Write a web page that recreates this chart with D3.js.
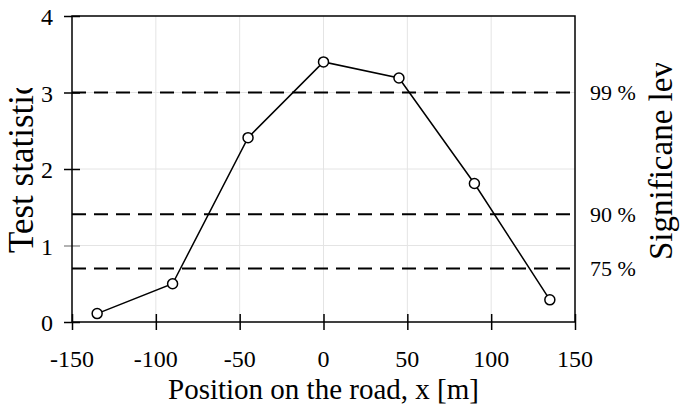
<!DOCTYPE html>
<html>
<head>
<meta charset="utf-8">
<script src="https://d3js.org/d3.v7.min.js"></script>
<style>
  body { margin: 0; background: #fff; }
  text { font-family: "Liberation Serif", "Times New Roman", serif; fill: #000; }
</style>
</head>
<body>
<svg id="chart" width="680" height="414"></svg>
<script>
// data
var positions = [-135, -90, -45, 0, 45, 90, 135];
var testStat = [0.11, 0.5, 2.41, 3.4, 3.19, 1.81, 0.29];
var levels = [3.0, 1.41, 0.7];
var levelLabels = ["99 %", "90 %", "75 %"];
var xTicks = [-150, -100, -50, 0, 50, 100, 150];
var yTicks = [0, 1, 2, 3, 4];

var svg = d3.select("#chart");

var plotL = 72, plotR = 575, plotT = 16, plotB = 322;

var x = d3.scaleLinear().domain([-150, 150]).range([plotL, plotR]);
var y = d3.scaleLinear().domain([0, 4]).range([plotB, plotT]);

// grid
svg.append("g").selectAll("line")
  .data(xTicks.slice(1, -1))
  .enter().append("line")
  .attr("x1", function(d) { return x(d); })
  .attr("x2", function(d) { return x(d); })
  .attr("y1", plotT).attr("y2", plotB)
  .attr("stroke", "#e4e4e4").attr("stroke-width", 1);

svg.append("g").selectAll("line")
  .data(yTicks.slice(1, -1))
  .enter().append("line")
  .attr("x1", plotL).attr("x2", plotR)
  .attr("y1", function(d) { return y(d); })
  .attr("y2", function(d) { return y(d); })
  .attr("stroke", "#e4e4e4").attr("stroke-width", 1);

// significance levels
svg.append("g").selectAll("line")
  .data(levels)
  .enter().append("line")
  .attr("x1", plotL).attr("x2", plotR - 4)
  .attr("y1", function(d) { return y(d); })
  .attr("y2", function(d) { return y(d); })
  .attr("stroke", "#000").attr("stroke-width", 2)
  .attr("stroke-dasharray", "14,8");

svg.append("g").selectAll("text")
  .data(levels)
  .enter().append("text")
  .attr("x", plotR + 15)
  .attr("y", function(d) { return y(d); })
  .attr("dy", "0.35em")
  .style("font-size", "22px")
  .text(function(d, i) { return levelLabels[i]; });

// axes, ticks cross the lines
var axisX = d3.axisBottom(x).tickValues(xTicks).tickSize(16).tickFormat("");
var gx = svg.append("g").attr("transform", "translate(0," + (plotB - 8) + ")").call(axisX);
gx.select(".domain").remove();
gx.selectAll("line").attr("stroke", "#000").attr("stroke-width", 1.5);

var axisY = d3.axisLeft(y).tickValues(yTicks).tickSize(16).tickFormat("");
var gy = svg.append("g").attr("transform", "translate(" + (plotL + 8) + ",0)").call(axisY);
gy.select(".domain").remove();
gy.selectAll("line").attr("stroke", function(d) { return d === 1 ? "#999" : "#000"; })
  .attr("stroke-width", 1.5);

svg.append("rect")
  .attr("x", plotL).attr("y", plotT)
  .attr("width", plotR - plotL).attr("height", plotB - plotT)
  .attr("fill", "none").attr("stroke", "#000").attr("stroke-width", 1.5);

svg.append("g").selectAll("text")
  .data(xTicks)
  .enter().append("text")
  .attr("x", function(d) { return x(d); })
  .attr("y", 367)
  .attr("text-anchor", "middle")
  .style("font-size", "24px")
  .text(function(d) { return d; });

svg.append("g").selectAll("text")
  .data(yTicks)
  .enter().append("text")
  .attr("x", plotL - 19)
  .attr("y", function(d) { return y(d) + 1; })
  .attr("dy", "0.35em")
  .attr("text-anchor", "end")
  .style("font-size", "24px")
  .text(function(d) { return d; });

// data line
var pts = positions.map(function(p, i) { return [p, testStat[i]]; });
svg.append("path")
  .datum(pts)
  .attr("fill", "none").attr("stroke", "#000").attr("stroke-width", 1.5)
  .attr("d", d3.line().x(function(d) { return x(d[0]); }).y(function(d) { return y(d[1]); }));

svg.append("g").selectAll("circle")
  .data(pts)
  .enter().append("circle")
  .attr("cx", function(d) { return x(d[0]); })
  .attr("cy", function(d) { return y(d[1]); })
  .attr("r", 5)
  .attr("fill", "#fff").attr("stroke", "#000").attr("stroke-width", 1.5);

// titles
svg.append("text")
  .attr("x", (plotL + plotR) / 2).attr("y", 399)
  .attr("text-anchor", "middle")
  .style("font-size", "29px")
  .text("Position on the road, x [m]");

var defs = svg.append("defs");
defs.append("clipPath").attr("id", "clipL")
  .append("rect").attr("x", 0).attr("y", 88).attr("width", 60).attr("height", 300);
defs.append("clipPath").attr("id", "clipR")
  .append("rect").attr("x", 630).attr("y", 63).attr("width", 50).attr("height", 300);

svg.append("g").attr("clip-path", "url(#clipL)")
  .append("text")
  .attr("transform", "translate(33,253) rotate(-90)")
  .style("font-size", "35px")
  .text("Test statistic");

svg.append("g").attr("clip-path", "url(#clipR)")
  .append("text")
  .attr("transform", "translate(672,260) rotate(-90)")
  .style("font-size", "33px")
  .text("Significane level");
</script>
</body>
</html>
